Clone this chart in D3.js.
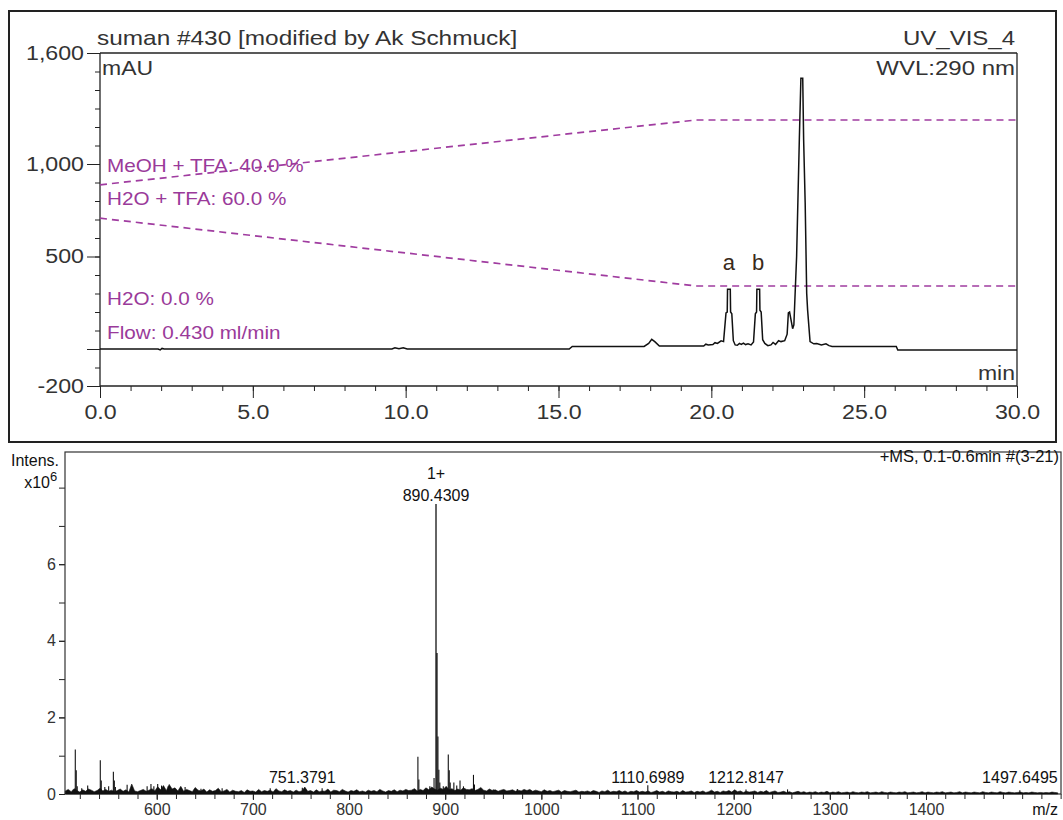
<!DOCTYPE html>
<html>
<head>
<meta charset="utf-8">
<script src="https://cdn.jsdelivr.net/npm/d3@7"></script>
<style>
  body { margin: 0; background: #fff; }
  svg { display: block; font-family: 'Liberation Sans', Arial, sans-serif; }
</style>
</head>
<body>
<script>
// ---- HPLC trace (UV_VIS_4), [time min, mAU]
const chromPoints = [
  [0, 0], [1.9, 0], [1.97, -5], [2.03, 3], [2.1, 0],
  [9.55, 0], [9.65, 7], [9.78, 2], [9.92, 7], [10.05, 0],
  [15.35, 0], [15.45, 14], [17.8, 14], [17.95, 30], [18.05, 52], [18.15, 40], [18.3, 16],
  [19.75, 16], [19.82, 26], [19.9, 22], [20.05, 24], [20.12, 34], [20.2, 30], [20.32, 44], [20.4, 40],
  [20.48, 195], [20.52, 200], [20.53, 323], [20.62, 323], [20.63, 200], [20.67, 190], [20.72, 45],
  [20.78, 22], [20.85, 20], [20.92, 30], [20.98, 25], [21.05, 32], [21.12, 24], [21.2, 28], [21.3, 22], [21.38, 38],
  [21.44, 190], [21.48, 200], [21.49, 323], [21.58, 323], [21.59, 210], [21.63, 200], [21.68, 50],
  [21.75, 30], [21.85, 18], [21.95, 22], [22.02, 35], [22.1, 25], [22.2, 45], [22.28, 40], [22.4, 45],
  [22.48, 80], [22.52, 195], [22.56, 200], [22.66, 110], [22.7, 130], [22.79, 500], [22.88, 1140],
  [22.93, 1463], [22.99, 1463], [23.02, 1130], [23.07, 790], [23.12, 300], [23.15, 210], [23.23, 40],
  [23.35, 28], [23.45, 30], [23.6, 22], [23.75, 28], [23.85, 18], [23.95, 14],
  [26.05, 14], [26.1, -6], [30, -6]
];
const gradTime = [0, 19.5, 30];
const meohPct = [40, 100, 100];
const h2oPct = [60, 0, 0];
const timeTicks = [0, 5, 10, 15, 20, 25, 30];
const mauTicks = [-200, 0, 500, 1000, 1600];
const peakTags = ['a', 'b'];
const peakTagTime = [20.57, 21.53];
const peakTagMau = [323, 323];
const gradLabels = ['MeOH + TFA: 40.0 %', 'H2O + TFA: 60.0 %', 'H2O: 0.0 %', 'Flow: 0.430 ml/min'];

// ---- mass spectrum, intensity in 1e6
const msMz = [515.3, 516.3, 517.3, 522, 528.2, 541.3, 542.3, 546, 550, 554.9, 555.9, 557, 569.2,
  590, 594, 597, 601, 605, 612, 629.5, 646, 668, 718, 751.4, 772,
  871.6, 872.6, 884, 888.4, 890.43, 891.43, 892.43, 893.4, 894.4, 898, 903.2, 904.2, 905.2,
  909, 912, 915.4, 919, 929.4, 930.4, 950, 975, 1110.7, 1212.8, 1256, 1497.6];
const msInt = [1.16, 0.62, 0.2, 0.15, 0.22, 0.88, 0.35, 0.18, 0.2, 0.58, 0.35, 0.18, 0.24,
  0.2, 0.26, 0.2, 0.26, 0.22, 0.2, 0.18, 0.14, 0.15, 0.15, 0.16, 0.15,
  0.97, 0.38, 0.2, 0.42, 7.57, 3.68, 1.5, 0.63, 0.3, 0.2, 1.03, 0.62, 0.3,
  0.3, 0.22, 0.35, 0.2, 0.5, 0.25, 0.12, 0.13, 0.23, 0.12, 0.12, 0.1];
// baseline noise, one value per 3 m/z from 505, in 1e4
const noiseStart = 505, noiseStep = 3;
const noiseInt = [
  8,12,6,14,9,5,11,7,13,10,6,9,15,8,12,7,10,6,9,13,
  7,11,5,26,8,6,9,12,7,10,14,8,19,11,22,9,25,13,16,8,
  20,7,12,9,6,17,10,8,13,5,11,7,9,15,6,8,12,5,10,7,
  6,9,4,11,7,8,5,12,6,9,7,10,5,14,8,6,11,7,9,5,
  10,6,8,18,7,9,5,11,6,8,7,13,5,10,9,6,12,8,5,9,
  7,11,6,8,5,10,7,9,6,12,8,5,9,7,11,6,10,8,12,9,
  10,14,8,12,9,16,11,18,13,10,15,12,20,11,14,9,13,10,16,12,
  11,14,9,12,17,10,8,13,9,11,7,10,12,8,9,11,7,10,8,12,
  9,12,7,10,8,6,11,7,9,6,8,10,5,9,7,6,8,10,5,7,
  6,8,5,9,7,4,8,6,10,5,7,6,9,5,8,4,7,6,9,5,
  7,5,8,4,6,9,5,7,4,8,6,5,7,4,9,5,6,8,4,7,
  5,8,4,6,10,5,7,4,8,6,9,5,11,6,8,4,7,5,6,8,
  4,7,5,9,4,6,8,4,5,7,4,6,3,5,7,4,6,3,5,4,
  6,3,5,4,7,3,5,4,6,3,4,5,3,6,4,3,5,4,6,3,
  4,5,3,6,4,3,5,4,3,5,4,6,3,4,5,3,4,6,3,5,
  4,3,5,4,6,3,4,5,3,4,6,3,5,4,3,5,4,3,6,4,
  3,5,4,3,6,4,3,5,4,3,4,5,3,4,3,5,4,3,4,3,
  4,3,5,4,3
];
const msLabels = ['751.3791', '1110.6989', '1212.8147', '1497.6495'];
const msLabelMz = [751.3791, 1110.6989, 1212.8147, 1497.6495];
const mzTicks = [600, 700, 800, 900, 1000, 1100, 1200, 1300, 1400];
const intTicks = [0, 2, 4, 6];

const svg = d3.select('body').append('svg').attr('width', 1063).attr('height', 820);
const ink = '#222', txt = '#333', purple = '#a03ca0';

function tidy(g, size) {
  g.attr('font-family', null).attr('font-size', size);
  g.select('.domain').remove();
  g.selectAll('line').attr('stroke', ink);
  g.selectAll('text').attr('fill', txt);
}

// text helper; sx stretches the glyphs horizontally like the exported picture
const T = (px, py, s, size, anchor, fill, sx) => svg.append('text')
  .attr('transform', `translate(${px},${py}) scale(${sx || 1},1)`)
  .attr('font-size', size)
  .attr('text-anchor', anchor || 'start').attr('fill', fill || txt).text(s);

// ================= top panel =================
svg.append('rect')
  .attr('x', 9).attr('y', 11).attr('width', 1047).attr('height', 431)
  .attr('fill', 'none').attr('stroke', ink).attr('stroke-width', 2);

const x = d3.scaleLinear().domain([0, 30]).range([100, 1017]);
const y = d3.scaleLinear().domain([-200, 1600]).range([386, 53]);
const yMeoh = d3.scaleLinear().domain([0, 100]).range([228, 120]);
const yH2o = d3.scaleLinear().domain([0, 100]).range([286, 173]);
const sxTop = 1.16;

// minor + major ticks
svg.append('g').attr('transform', `translate(0,${y(-200)})`)
  .call(d3.axisBottom(x).tickValues(d3.range(0, 31)).tickSize(5).tickFormat(''))
  .call(g => tidy(g, 20));
svg.append('g').attr('transform', `translate(0,${y(-200)})`)
  .call(d3.axisBottom(x).tickValues(timeTicks).tickSize(12).tickPadding(7).tickFormat(d3.format('.1f')))
  .call(g => tidy(g, 20))
  .call(g => g.selectAll('text').attr('transform', `scale(${sxTop},1)`));
svg.append('g').attr('transform', `translate(${x(0)},0)`)
  .call(d3.axisLeft(y).tickValues(d3.range(-200, 1601, 100)).tickSize(5).tickFormat(''))
  .call(g => tidy(g, 20));
svg.append('g').attr('transform', `translate(${x(0)},0)`)
  .call(d3.axisLeft(y).tickValues(mauTicks).tickSize(13).tickPadding(3)
    .tickFormat(d => d === 0 ? '' : d3.format(',')(d).replace('\u2212', '-')))
  .call(g => tidy(g, 20))
  .call(g => g.selectAll('text').attr('x', -16 / sxTop).attr('transform', `scale(${sxTop},1)`));

// plot frame
const fr = svg.append('g').attr('stroke', ink).attr('stroke-width', 1.3);
fr.append('line').attr('x1', x(0)).attr('x2', x(30)).attr('y1', y(1600)).attr('y2', y(1600));
fr.append('line').attr('x1', x(0)).attr('x2', x(30)).attr('y1', y(-200)).attr('y2', y(-200));
fr.append('line').attr('x1', x(0)).attr('x2', x(0)).attr('y1', y(1600)).attr('y2', y(-200));
fr.append('line').attr('x1', x(30)).attr('x2', x(30)).attr('y1', y(1600)).attr('y2', y(-200));

// gradient curves
const grad = gradTime.map((t, i) => ({ t, m: meohPct[i], h: h2oPct[i] }));
svg.append('path').datum(grad)
  .attr('d', d3.line().x(d => x(d.t)).y(d => yMeoh(d.m)))
  .attr('fill', 'none').attr('stroke', purple).attr('stroke-width', 1.7).attr('stroke-dasharray', '7,5');
svg.append('path').datum(grad)
  .attr('d', d3.line().x(d => x(d.t)).y(d => yH2o(d.h)))
  .attr('fill', 'none').attr('stroke', purple).attr('stroke-width', 1.7).attr('stroke-dasharray', '7,5');

// signal
svg.append('path').datum(chromPoints)
  .attr('d', d3.line().x(d => x(d[0])).y(d => y(d[1])))
  .attr('fill', 'none').attr('stroke', '#111').attr('stroke-width', 1.5);

T(97, 45, 'suman #430 [modified by Ak Schmuck]', 20, 'start', txt, 1.22);
T(1015, 45, 'UV_VIS_4', 20, 'end', txt, 1.2);
T(102, 75, 'mAU', 20, 'start', txt, 1.15);
T(1015, 75, 'WVL:290 nm', 20, 'end', txt, 1.2);
T(1015, 380, 'min', 20, 'end', txt, 1.15);

const gradY = [172, 205, 305, 339];
gradLabels.forEach((s, i) => T(107, gradY[i], s, 18, 'start', '#9a3a9a', 1.15));

peakTags.forEach((s, i) => T(x(peakTagTime[i]), y(peakTagMau[i]) - 19, s, 22, 'middle', '#3a2a1a'));

// ================= bottom panel =================
const xm = d3.scaleLinear().domain([504.6, 1540.4]).range([65, 1061]);
const ym = d3.scaleLinear().domain([0, 8.93]).range([794, 452]);

svg.append('g').attr('transform', `translate(0,${ym(0)})`)
  .call(d3.axisBottom(xm).tickValues(d3.range(520, 1541, 20)).tickSize(5).tickFormat(''))
  .call(g => tidy(g, 16));
svg.append('g').attr('transform', `translate(0,${ym(0)})`)
  .call(d3.axisBottom(xm).tickValues(mzTicks).tickSize(6).tickPadding(4).tickFormat(d3.format('d')))
  .call(g => tidy(g, 16));
svg.append('g').attr('transform', `translate(${xm.range()[0]},0)`)
  .call(d3.axisLeft(ym).tickValues(d3.range(0, 9)).tickSize(6).tickFormat(''))
  .call(g => tidy(g, 16));
svg.append('g').attr('transform', `translate(${xm.range()[0]},0)`)
  .call(d3.axisLeft(ym).tickValues(intTicks).tickSize(6).tickPadding(3).tickFormat(d3.format('d')))
  .call(g => tidy(g, 16));

svg.append('rect')
  .attr('x', 65).attr('y', 452).attr('width', 996).attr('height', 342)
  .attr('fill', 'none').attr('stroke', '#333').attr('stroke-width', 1.2);

// noise band
svg.append('path').datum(noiseInt)
  .attr('d', d3.area().x((d, i) => xm(noiseStart + i * noiseStep)).y0(ym(0)).y1(d => ym(d / 100)))
  .attr('fill', '#111').attr('stroke', '#111').attr('stroke-width', 0.6);

// peaks
svg.append('g').selectAll('line').data(msMz).join('line')
  .attr('x1', d => xm(d)).attr('x2', d => xm(d))
  .attr('y1', ym(0)).attr('y2', (d, i) => ym(msInt[i]))
  .attr('stroke', '#111').attr('stroke-width', (d, i) => msInt[i] > 2 ? 1.3 : 1.1);

T(xm(890.43), 479, '1+', 16, 'middle', '#111');
T(xm(890.43), 501, '890.4309', 16, 'middle', '#111');
msLabels.forEach((s, i) => {
  const px = Math.min(xm(msLabelMz[i]), 1058 - 38);
  T(px, 783, s, 16, 'middle', '#111');
});
T(1059, 462, '+MS, 0.1-0.6min #(3-21)', 16.5, 'end', '#111');
T(59, 466, 'Intens.', 16, 'end', '#111');
T(50, 488, 'x10', 16, 'end', '#111');
T(50, 481, '6', 13, 'start', '#111');
T(1058, 815, 'm/z', 16, 'end', '#111');
</script>
</body>
</html>
